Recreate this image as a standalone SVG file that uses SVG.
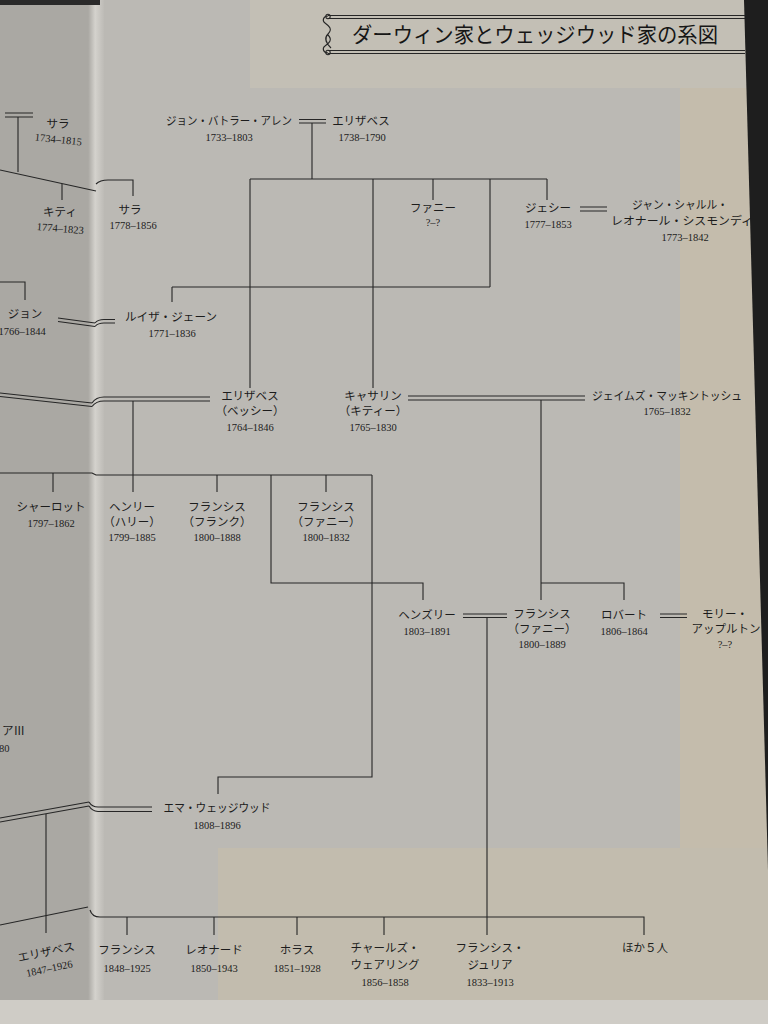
<svg xmlns="http://www.w3.org/2000/svg" width="768" height="1024" viewBox="0 0 768 1024">
<defs>
<style>
.ln{stroke:#262626;stroke-width:1.1;fill:none}
.nm{font-family:"Noto Sans CJK JP","Noto Sans CJK SC",sans-serif;font-size:11.5px;fill:#1c1c1c;text-anchor:middle}
.dt{font-family:"Liberation Serif","DejaVu Serif",serif;font-size:10.5px;fill:#1c1c1c;text-anchor:middle}
.ttl{font-family:"Noto Sans CJK JP",sans-serif;font-size:21px;fill:#161616}
</style>
<linearGradient id="gut" x1="0" y1="0" x2="1" y2="0">
<stop offset="0" stop-color="#a9a7a2"/>
<stop offset="0.45" stop-color="#d4d2cd"/>
<stop offset="1" stop-color="#bdbbb6"/>
</linearGradient>
</defs>
<!-- background -->
<rect x="0" y="0" width="768" height="1024" fill="#bbb9b4"/>
<rect x="0" y="0" width="90" height="1000" fill="#aaa8a3"/>
<rect x="88" y="0" width="16" height="1000" fill="url(#gut)"/>
<rect x="250" y="0" width="518" height="88" fill="#c3bfb5"/>
<rect x="680" y="88" width="88" height="912" fill="#c4bcac"/>
<rect x="218" y="848" width="550" height="152" fill="#c2bcae"/>
<rect x="0" y="1000" width="768" height="24" fill="#cfccc6"/>
<rect x="0" y="0" width="100" height="5" fill="#2a2a2a"/>
<polygon points="744,0 768,0 768,870" fill="#1e1e1e"/>
<!-- title -->
<g id="title">
<path class="ln" d="M328 15.5H745M328 18.5H745M328 50.5H745M328 53.5H745" stroke-width="1.2"/>
<path class="ln" d="M328 16c-5 0-6 5-3 7c4 3 8 6 3 11c-5 5-1 10 3 14M328 53c-5 0-6-5-3-7c4-3 8-6 3-11" stroke-width="1"/>
<circle cx="328" cy="16.5" r="2.2" class="ln" stroke-width="1"/>
<circle cx="328" cy="52.5" r="2.2" class="ln" stroke-width="1"/>
<text class="ttl" x="352" y="42" textLength="366" lengthAdjust="spacingAndGlyphs">ダーウィン家とウェッジウッド家の系図</text>
</g>
<!-- connectors -->
<g id="connectors" class="ln">
<path d="M5 113H33M5 117H33"/>
<path d="M18 117V172"/>
<path d="M0 170L96 191"/>
<path d="M62 184V200"/>
<path d="M96 184Q100 180 108 180H133V196"/>
<path d="M299 119.5H326M299 123H326"/>
<path d="M312 123V179"/>
<path d="M250 179H547"/>
<path d="M250 179V388M373 179V388M433 179V200M490 179V287M547 179V200"/>
<path d="M172 287H490M172 287V302"/>
<path d="M580 207H607M580 211H607"/>
<path d="M0 282H25V300"/>
<path d="M58 318L95 323M58 321.5L95 326.5"/>
<path d="M95 323Q98 319.5 104 319.5H115M95 326.5Q98 323 104 323H115"/>
<path d="M0 393L92 403M0 396.5L92 406.5"/>
<path d="M92 403Q96 397 104 397H210M92 406.5Q96 401 104 401H210"/>
<path d="M133 401V492"/>
<path d="M0 473H92L96 475H372"/>
<path d="M53 473V492M217 475V492M326 475V492"/>
<path d="M271 475V583H423V600"/>
<path d="M372 475V777H218V794"/>
<path d="M408 396H585M408 400H585"/>
<path d="M541 400V600M541 583H624V600"/>
<path d="M463 614H507M463 617.5H507"/>
<path d="M660 614H687M660 617.5H687"/>
<path d="M487 617.5V935"/>
<path d="M0 818L89 802M0 822L89 806"/>
<path d="M89 802Q92 807 98 807H152M89 806Q92 811 98 811.5H152"/>
<path d="M46 814V933"/>
<path d="M0 925L88 907"/>
<path d="M90 910Q92 917 100 917H644V935"/>
<path d="M127 917V935M214 917V935M297 917V935M384 917V935"/>
</g>
<!-- nodes -->
<g id="n-sara1"><text class="nm" x="58" y="128">サラ</text><text class="dt" x="58" y="143" transform="rotate(6 58 143)">1734–1815</text></g>
<g id="n-kitty1"><text class="nm" x="60" y="216">キティ</text><text class="dt" x="60" y="232" transform="rotate(5 60 232)">1774–1823</text></g>
<g id="n-sara2"><text class="nm" x="130" y="214">サラ</text><text class="dt" x="133" y="229">1778–1856</text></g>
<g id="n-allen"><text class="nm" x="229" y="125" textLength="126" lengthAdjust="spacingAndGlyphs">ジョン・バトラー・アレン</text><text class="dt" x="229" y="141">1733–1803</text></g>
<g id="n-elizabeth0"><text class="nm" x="361" y="125">エリザベス</text><text class="dt" x="362" y="141">1738–1790</text></g>
<g id="n-fanny0"><text class="nm" x="433" y="212">ファニー</text><text class="dt" x="433" y="226">?–?</text></g>
<g id="n-jessie"><text class="nm" x="548" y="212">ジェシー</text><text class="dt" x="548" y="228">1777–1853</text></g>
<g id="n-sismondi"><text class="nm" x="680" y="209" textLength="96" lengthAdjust="spacingAndGlyphs">ジャン・シャルル・</text><text class="nm" x="682" y="225" textLength="142" lengthAdjust="spacingAndGlyphs">レオナール・シスモンディ</text><text class="dt" x="685" y="241">1773–1842</text></g>
<g id="n-john"><text class="nm" x="25" y="318">ジョン</text><text class="dt" x="22" y="335">1766–1844</text></g>
<g id="n-louisa"><text class="nm" x="171" y="321" textLength="92" lengthAdjust="spacingAndGlyphs">ルイザ・ジェーン</text><text class="dt" x="172" y="337">1771–1836</text></g>
<g id="n-bessy"><text class="nm" x="250" y="400">エリザベス</text><text class="nm" x="250" y="415">（ベッシー）</text><text class="dt" x="250" y="431">1764–1846</text></g>
<g id="n-catherine"><text class="nm" x="373" y="400">キャサリン</text><text class="nm" x="373" y="415">（キティー）</text><text class="dt" x="373" y="431">1765–1830</text></g>
<g id="n-mackintosh"><text class="nm" x="667" y="400" textLength="150" lengthAdjust="spacingAndGlyphs">ジェイムズ・マッキントッシュ</text><text class="dt" x="667" y="415">1765–1832</text></g>
<g id="n-charlotte"><text class="nm" x="51" y="511">シャーロット</text><text class="dt" x="51" y="527">1797–1862</text></g>
<g id="n-henry"><text class="nm" x="132" y="511">ヘンリー</text><text class="nm" x="132" y="526">（ハリー）</text><text class="dt" x="132" y="541">1799–1885</text></g>
<g id="n-frank"><text class="nm" x="217" y="511">フランシス</text><text class="nm" x="217" y="526">（フランク）</text><text class="dt" x="217" y="541">1800–1888</text></g>
<g id="n-fanny1"><text class="nm" x="326" y="511">フランシス</text><text class="nm" x="326" y="526">（ファニー）</text><text class="dt" x="326" y="541">1800–1832</text></g>
<g id="n-hensleigh"><text class="nm" x="427" y="619">ヘンズリー</text><text class="dt" x="427" y="635">1803–1891</text></g>
<g id="n-fanny2"><text class="nm" x="542" y="618">フランシス</text><text class="nm" x="542" y="633">（ファニー）</text><text class="dt" x="542" y="648">1800–1889</text></g>
<g id="n-robert"><text class="nm" x="624" y="619">ロバート</text><text class="dt" x="624" y="635">1806–1864</text></g>
<g id="n-molly"><text class="nm" x="725" y="618">モリー・</text><text class="nm" x="726" y="633">アップルトン</text><text class="dt" x="725" y="648">?–?</text></g>
<g id="n-josiah3"><text class="nm" x="25" y="735" style="text-anchor:end">アⅢ</text><text class="dt" x="-1" y="752" style="text-anchor:start">80</text></g>
<g id="n-emma"><text class="nm" x="217" y="812" textLength="107" lengthAdjust="spacingAndGlyphs">エマ・ウェッジウッド</text><text class="dt" x="217" y="829">1808–1896</text></g>
<g id="n-elizabeth2"><text class="nm" x="47" y="956" transform="rotate(-12 47 956)">エリザベス</text><text class="dt" x="50" y="972" transform="rotate(-12 50 972)">1847–1926</text></g>
<g id="n-francis3"><text class="nm" x="127" y="954">フランシス</text><text class="dt" x="127" y="972">1848–1925</text></g>
<g id="n-leonard"><text class="nm" x="214" y="954">レオナード</text><text class="dt" x="214" y="972">1850–1943</text></g>
<g id="n-horace"><text class="nm" x="297" y="954">ホラス</text><text class="dt" x="297" y="972">1851–1928</text></g>
<g id="n-charles"><text class="nm" x="385" y="952">チャールズ・</text><text class="nm" x="385" y="969">ウェアリング</text><text class="dt" x="385" y="986">1856–1858</text></g>
<g id="n-julia"><text class="nm" x="490" y="952">フランシス・</text><text class="nm" x="490" y="969">ジュリア</text><text class="dt" x="490" y="986">1833–1913</text></g>
<g id="n-others"><text class="nm" x="645" y="952">ほか５人</text></g>
</svg>
